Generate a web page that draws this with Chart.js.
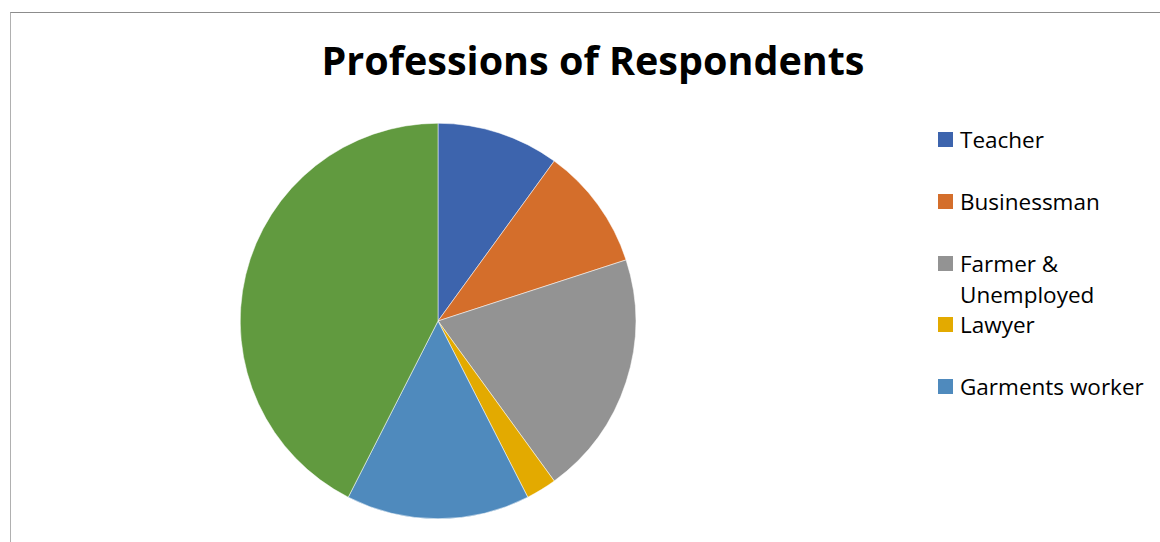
<!DOCTYPE html>
<html>
<head>
<meta charset="utf-8">
<script src="https://cdn.jsdelivr.net/npm/chart.js@4"></script>
<style>
  body { margin: 0; background: #fff; width: 1160px; height: 542px; overflow: hidden; position: relative; font-family: "Open Sans", sans-serif; }
  .frame { position: absolute; left: 10px; top: 12px; width: 1200px; height: 600px; border-top: 1px solid #8c8c8c; border-left: 1px solid #b0b0b0; }
  .title { position: absolute; left: 0; width: 1186px; top: 33px; text-align: center; font-weight: bold; font-size: 39.5px; line-height: 54px; color: #000; }
  .pie { position: absolute; left: 240px; top: 123px; width: 396px; height: 396px; }
  .legend { position: absolute; left: 938px; top: 0; }
  .item { position: absolute; left: 0; width: 230px; font-size: 22.5px; line-height: 31px; color: #000; }
  .item span.sw { position: absolute; left: 0; top: 8px; width: 15px; height: 15px; }
  .item span.tx { position: absolute; left: 22px; top: 0; white-space: nowrap; }
</style>
</head>
<body>
<div class="frame"></div>
<div class="title">Professions of Respondents</div>
<div class="pie"><canvas id="pieChart"></canvas></div>
<div class="legend" id="legend"></div>
<script>
const labels = ["Teacher", "Businessman", "Farmer & Unemployed", "Lawyer", "Garments worker", "Others"];
const values = [4, 4, 8, 1, 6, 17];
const colors = ["#3d64ad", "#d46e2b", "#939393", "#e3aa00", "#4f8abd", "#619a3f"];
// legend lines as laid out in the picture (the last slice is cut off there)
const legendLines = [["Teacher"], ["Businessman"], ["Farmer &", "Unemployed"], ["Lawyer"], ["Garments worker"]];
const legendTops = [124, 186, 248, 309, 371];

new Chart(document.getElementById("pieChart"), {
  type: "pie",
  data: {
    labels: labels,
    datasets: [{
      data: values,
      backgroundColor: colors,
      borderColor: "#ffffff",
      borderWidth: 0.5
    }]
  },
  options: {
    responsive: true,
    maintainAspectRatio: false,
    animation: false,
    layout: { padding: 0 },
    plugins: {
      legend: { display: false },
      tooltip: { enabled: false }
    }
  }
});

const legend = document.getElementById("legend");
legendLines.forEach((lines, i) => {
  const div = document.createElement("div");
  div.className = "item";
  div.style.top = legendTops[i] + "px";
  div.innerHTML = '<span class="sw" style="background:' + colors[i] + '"></span>' +
    '<span class="tx">' + lines.map(l => l.replace("&", "&amp;")).join("<br>") + '</span>';
  legend.appendChild(div);
});
</script>
</body>
</html>
